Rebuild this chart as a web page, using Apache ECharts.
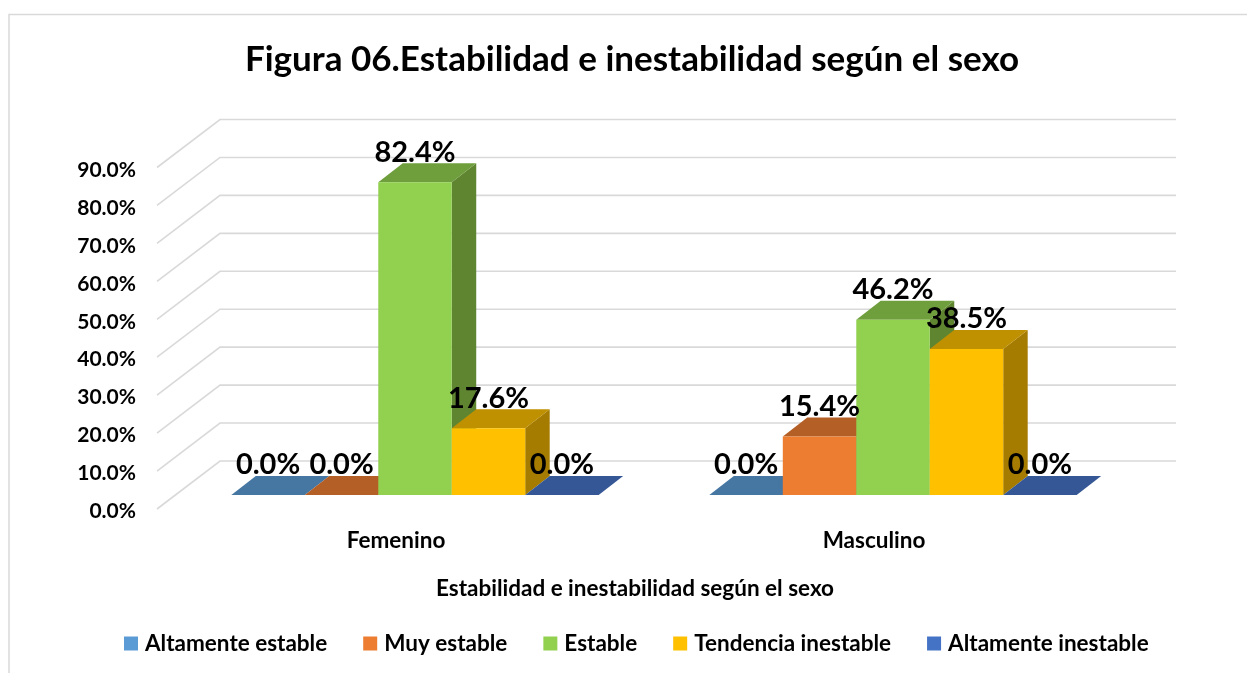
<!DOCTYPE html>
<html>
<head>
<meta charset="utf-8">
<style>html,body{margin:0;padding:0;background:#fff}#c{width:1247px;height:673px}</style>
<script src="https://cdn.jsdelivr.net/npm/echarts@6/dist/echarts.min.js"></script>
</head>
<body>
<div id="c"></div>
<script>
const titleText = 'Figura 06.Estabilidad e inestabilidad según el sexo';
const axisTitle = 'Estabilidad e inestabilidad según el sexo';
const categories = ['Femenino', 'Masculino'];
const altamenteEstable = [0.0, 0.0];
const muyEstable = [0.0, 15.4];
const estable = [82.4, 46.2];
const tendenciaInestable = [17.6, 38.5];
const altamenteInestable = [0.0, 0.0];
const gridTicks = [0, 10, 20, 30, 40, 50, 60, 70, 80, 90];

const seriesNames = ['Altamente estable', 'Muy estable', 'Estable', 'Tendencia inestable', 'Altamente inestable'];
const seriesValues = [altamenteEstable, muyEstable, estable, tendenciaInestable, altamenteInestable];
const frontColors = ['#5B9BD5', '#ED7D31', '#92D050', '#FFC000', '#4472C4'];
const topColors = ['#4676A2', '#B45F25', '#6F9E3D', '#BF9000', '#365795'];
const sideColors = ['#3A6285', '#95501F', '#5F8531', '#A67C00', '#2C4780'];

const FONT = 'Lato, Carlito, Calibri, sans-serif';
const WALL_DX = 63, WALL_DY = -48;      // floor depth from the axis plane to the back wall
const PLANE_DX = 19, PLANE_DY = -14;    // bars' front plane relative to the axis plane
const BAR_DX = 24.5, BAR_DY = -19;      // depth of a bar
const BAR_RATIO = 0.1537;               // bar width / category band

const chart = echarts.init(document.getElementById('c'), null, {renderer: 'canvas'});

function renderWall(params, api) {
  const v = api.value(0);
  const size = api.size([1, 0])[0];
  const p = api.coord([0, v]);
  const left = p[0] - size / 2;
  return {
    type: 'polyline',
    silent: true,
    shape: {points: [[left, p[1]], [left + WALL_DX, p[1] + WALL_DY], [left + 2 * size + WALL_DX, p[1] + WALL_DY]]},
    style: {stroke: '#D9D9D9', lineWidth: 1.6, fill: null}
  };
}

function makeBarRenderer(si) {
  return function (params, api) {
    const cat = api.value(0), v = api.value(1);
    const size = api.size([1, 0])[0];
    const w = size * BAR_RATIO;
    const top = api.coord([cat, v]);
    const base = api.coord([cat, 0]);
    const x0 = top[0] + PLANE_DX + (si - 2.5) * w, x1 = x0 + w;
    const yt = top[1] + PLANE_DY, yb = base[1] + PLANE_DY;
    const dx = BAR_DX, dy = BAR_DY;
    return {
      type: 'group',
      children: [
        {type: 'polygon', shape: {points: [[x1, yt], [x1 + dx, yt + dy], [x1 + dx, yb + dy], [x1, yb]]}, style: {fill: sideColors[si]}},
        {type: 'polygon', shape: {points: [[x0, yt], [x0 + dx, yt + dy], [x1 + dx, yt + dy], [x1, yt]]}, style: {fill: topColors[si]}},
        {type: 'rect', shape: {x: x0, y: yt, width: w, height: yb - yt}, style: {fill: frontColors[si]}},
        {type: 'text', z2: 100, style: {
          x: x0 + w / 2, y: yt - 30, text: v.toFixed(1) + '%',
          fill: '#000', align: 'center', verticalAlign: 'middle',
          font: 'bold 29px ' + FONT
        }}
      ]
    };
  };
}

const barSeries = seriesNames.map((name, si) => ({
  name,
  type: 'custom',
  coordinateSystem: 'cartesian2d',
  renderItem: makeBarRenderer(si),
  encode: {x: 0, y: 1},
  itemStyle: {color: frontColors[si]},
  clip: false,
  data: categories.map((c, i) => [i, seriesValues[si][i]])
}));

chart.setOption({
  animation: false,
  backgroundColor: '#fff',
  graphic: [{
    type: 'polyline', silent: true, z: 0,
    shape: {points: [[9, 673], [9, 14.5], [1247, 14.5]]},
    style: {stroke: '#D9D9D9', lineWidth: 1.5, fill: null}
  }],
  title: {
    text: titleText, left: 627, top: 55, textAlign: 'center', textVerticalAlign: 'middle',
    textStyle: {fontFamily: FONT, fontWeight: 'bold', fontSize: 35, color: '#000'}
  },
  legend: {
    left: 119, top: 627, itemWidth: 14, itemHeight: 14, itemGap: 36,
    data: seriesNames.map(name => ({name, icon: 'rect'})),
    textStyle: {fontFamily: FONT, fontWeight: 'bold', fontSize: 22.5, color: '#000', padding: [0, 0, 0, 2]}
  },
  grid: {left: 157, top: 167.5, width: 956, height: 341.5},
  xAxis: {
    type: 'category', data: categories,
    name: axisTitle, nameLocation: 'middle', nameGap: 68,
    nameTextStyle: {fontFamily: FONT, fontWeight: 'bold', fontSize: 22.5, color: '#000'},
    axisLine: {show: false}, axisTick: {show: false}, splitLine: {show: false},
    axisLabel: {fontFamily: FONT, fontWeight: 'bold', fontSize: 22.5, color: '#000', margin: 20}
  },
  yAxis: {
    type: 'value', min: 0, max: 90, interval: 10,
    axisLine: {show: false}, axisTick: {show: false}, splitLine: {show: false},
    axisLabel: {color: '#000', margin: 21,
      rich: {t: {fontFamily: FONT, fontWeight: 'bold', fontSize: 21, color: '#000', padding: [5, 0, 0, 0]}},
      formatter: v => '{t|' + v.toFixed(1) + '%}'}
  },
  series: [{
    type: 'custom', name: 'grid', coordinateSystem: 'cartesian2d', silent: true, z: 1, clip: false,
    renderItem: renderWall, encode: {y: 0}, data: gridTicks.map(t => [t])
  }].concat(barSeries)
});
</script>
</body>
</html>
